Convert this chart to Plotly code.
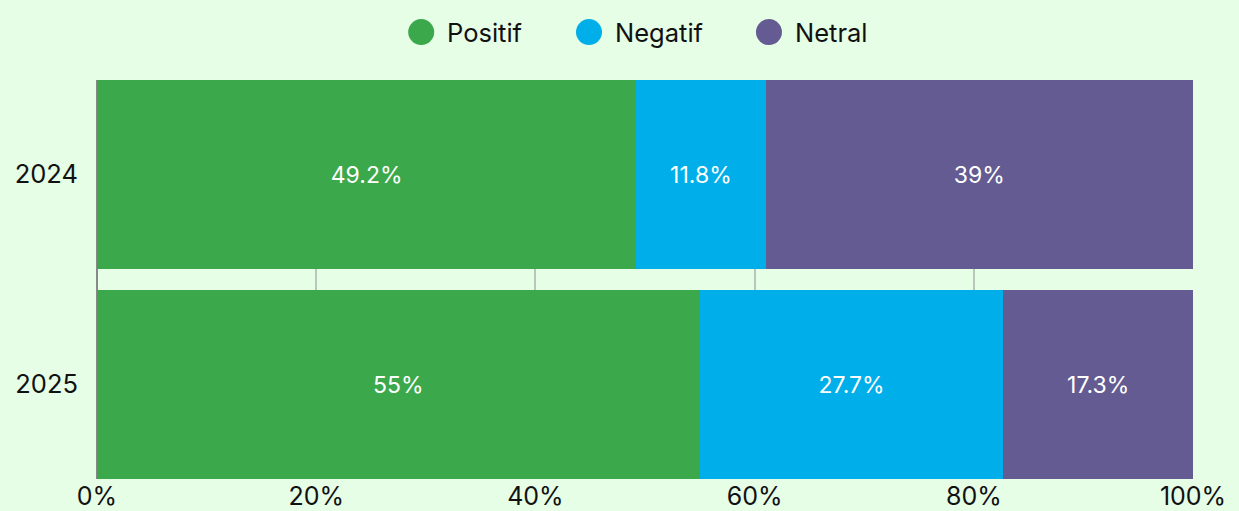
import plotly.graph_objects as go

years = ["2024", "2025"]
series_names = ["Positif", "Negatif", "Netral"]
positif = [49.2, 55.0]
negatif = [11.8, 27.7]
netral = [39.0, 17.3]
x_ticks = [0, 20, 40, 60, 80, 100]
x_tick_labels = ["0%", "20%", "40%", "60%", "80%", "100%"]

colors = ["#3ba84b", "#00aee9", "#635b92"]
FONT = "Inter"
BG = "#e6fde6"

fig = go.Figure()
for name, vals, col in zip(series_names, [positif, negatif, netral], colors):
    fig.add_trace(go.Bar(
        y=years, x=vals, name=name, orientation="h",
        marker=dict(color=col, line=dict(width=0)),
        text=[f"{v:g}%" for v in vals], textposition="inside",
        insidetextanchor="middle",
        textfont=dict(color="white", size=23, family=FONT),
        showlegend=False,
    ))

# custom legend (circles + labels), placed in paper/pixel coordinates
leg_x = [0.2958, 0.4489, 0.6131]  # circle centers in paper x
leg_y = 1.12
for name, col, lx in zip(series_names, colors, leg_x):
    fig.add_shape(type="circle", xref="paper", yref="paper",
                  xsizemode="pixel", ysizemode="pixel",
                  xanchor=lx, yanchor=leg_y,
                  x0=-13, x1=13, y0=-13, y1=13,
                  fillcolor=col, line=dict(width=0))
    fig.add_annotation(text=name, xref="paper", yref="paper",
                       x=lx, y=leg_y, xshift=24, xanchor="left", yanchor="middle",
                       showarrow=False, font=dict(size=25.5, family=FONT, color="#111111"))

fig.update_layout(
    barmode="stack",
    bargap=0.1,
    width=1239, height=511,
    margin=dict(l=97, r=46, t=80, b=32, autoexpand=False),
    paper_bgcolor=BG, plot_bgcolor=BG,
    font=dict(family=FONT, size=25, color="#111111"),
    xaxis=dict(range=[0, 100], tickvals=x_ticks, ticktext=x_tick_labels,
               showgrid=True, gridcolor="#b9c6b9", gridwidth=1.5,
               zeroline=True, zerolinecolor="#888888", zerolinewidth=2,
               ticks="", automargin=False,
               tickfont=dict(size=25, family=FONT, color="#111111")),
    yaxis=dict(autorange=False, range=[1.45, -0.45], type="category",
               showgrid=False, ticks="", ticklabelstandoff=18, automargin=False,
               tickfont=dict(size=25.5, family=FONT, color="#111111")),
    showlegend=False,
)

fig.write_html("out.html", config={"displayModeBar": False},
               post_script="document.body.style.margin='0';document.body.style.overflow='hidden';")
